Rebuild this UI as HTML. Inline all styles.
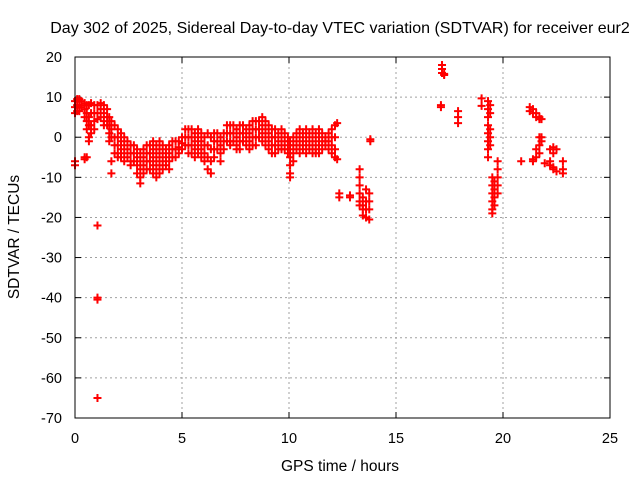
<!DOCTYPE html>
<html><head><meta charset="utf-8"><style>
body{margin:0;background:#fff;}
svg{display:block;font-family:"Liberation Sans",sans-serif;}
</style></head><body>
<svg id="chart" width="640" height="480">
<rect width="640" height="480" fill="#fff"/>
<text x="340" y="33" font-size="16" text-anchor="middle">Day 302 of 2025, Sidereal Day-to-day VTEC variation (SDTVAR) for receiver eur2</text>
<g id="grid"></g>
<g id="ticks"></g>
<g id="points"></g>
<rect x="75" y="57" width="535" height="361" fill="none" stroke="#000" stroke-width="1"/>
<text x="340" y="471" font-size="15.5" text-anchor="middle">GPS time / hours</text>
<text x="19" y="237" font-size="15.5" text-anchor="middle" transform="rotate(-90 19 237)">SDTVAR / TECUs</text>
</svg>
<script>
const xTicks=[0,5,10,15,20,25];
const yTicks=[20,10,0,-10,-20,-30,-40,-50,-60,-70];
const hours=[
0,0,0,0,0, 0.1,0.1,0.1, 0.2,0.2,0.2, 0.3,0.3,
0.45,0.45,0.45,0.45,0.45, 0.55,0.55,0.55,0.55,0.55, 0.65,0.65,0.65,0.65,0.65,
0.75,0.75,0.75,0.75, 0.9,0.9,0.9,0.9, 1.05,1.05,1.05,1.05,1.05,1.05,1.05,
1.2,1.2,1.2, 1.35,1.35,1.35,1.35, 1.5,1.5,1.5, 1.6,1.6,1.6,1.6, 1.7,1.7,1.7,1.7,1.7,
1.85,1.85,1.85,1.85, 2.0,2.0,2.0,2.0,2.0, 2.15,2.15,2.15,2.15, 2.3,2.3,2.3,2.3,
2.45,2.45,2.45, 2.6,2.6,2.6,2.6, 2.75,2.75,2.75, 2.9,2.9,2.9,2.9,
3.05,3.05,3.05,3.05,3.05, 3.2,3.2,3.2,3.2, 3.35,3.35,3.35,3.35, 3.5,3.5,3.5,3.5,
3.65,3.65,3.65,3.65,3.65, 3.8,3.8,3.8,3.8,3.8, 3.95,3.95,3.95,3.95,3.95,
4.1,4.1,4.1,4.1, 4.25,4.25,4.25, 4.4,4.4,4.4,4.4, 4.55,4.55,4.55, 4.7,4.7,4.7,
4.85,4.85,4.85, 5.0,5.0,5.0, 5.15,5.15,5.15, 5.3,5.3,5.3,5.3, 5.45,5.45,5.45,5.45,
5.6,5.6,5.6,5.6, 5.75,5.75,5.75,5.75, 5.9,5.9,5.9,5.9, 6.05,6.05,6.05,6.05,
6.2,6.2,6.2,6.2, 6.35,6.35,6.35,6.35, 6.5,6.5,6.5,6.5, 6.65,6.65,6.65,
6.8,6.8,6.8,6.8, 6.95,6.95,6.95, 7.1,7.1,7.1, 7.25,7.25,7.25,7.25, 7.4,7.4,7.4,
7.55,7.55,7.55,7.55, 7.7,7.7,7.7,7.7, 7.85,7.85,7.85, 8.0,8.0,8.0,
8.15,8.15,8.15,8.15, 8.3,8.3,8.3,8.3, 8.45,8.45,8.45,8.45, 8.6,8.6,8.6,
8.75,8.75,8.75,8.75, 8.9,8.9,8.9,8.9, 9.05,9.05,9.05,9.05, 9.2,9.2,9.2,9.2,
9.35,9.35,9.35,9.35, 9.5,9.5,9.5, 9.65,9.65,9.65,9.65, 9.8,9.8,9.8, 9.95,9.95,9.95,
10.05,10.05,10.05,10.05,10.05,10.05, 10.2,10.2,10.2,10.2, 10.35,10.35,10.35,
10.5,10.5,10.5,10.5, 10.65,10.65,10.65, 10.8,10.8,10.8,10.8, 10.95,10.95,10.95,
11.1,11.1,11.1,11.1, 11.25,11.25,11.25,11.25, 11.4,11.4,11.4,11.4, 11.55,11.55,11.55,
11.7,11.7,11.7, 11.85,11.85,11.85, 12.0,12.0,12.0,12.0, 12.15,12.15,12.15,12.15, 12.25,12.25,
12.35,12.35, 12.85,12.85, 13.3,13.3,13.3,13.3,13.3,13.3, 13.45,13.45,13.45,13.45,
13.6,13.6,13.6,13.6, 13.75,13.75,13.75,13.75, 13.8,13.8,
17.15,17.15,17.15, 17.25,17.25, 17.1,17.1, 17.9,17.9,17.9, 19.0,19.0,
19.3,19.3,19.3,19.3,19.3,19.3,19.3,19.3, 19.4,19.4,19.4,19.4,19.4,
19.5,19.5,19.5,19.5,19.5,19.5, 19.6,19.6,19.6,19.6, 19.75,19.75,19.75,19.75,19.75,
20.85, 21.25,21.25, 21.4,21.4,21.4,21.4, 21.55,21.55,21.55,21.55,
21.7,21.7,21.7,21.7,21.7, 21.8,21.8,21.8, 21.95, 22.2,22.2,22.2,
22.35,22.35,22.35,22.35, 22.5,22.5, 22.8,22.8,22.8
];
const tecu=[
9,7.5,6,-6,-7, 9.5,8,6.5, 9.5,8,6.5, 9,7.5,
8.5,7,5,-5,-5.5, 8,6,4,2,-5, 8,5,3,0,-1,
8.5,6,3,1, 8,6,4,2, 8,6,4.5,-22,-40,-40.5,-65,
8.5,7,5, 8,6,4,3, 7,5,3, 5,3,1,-1, 4,2,0,-6,-9,
3,0,-2,-4, 2,0,-2,-4,-5, 1,-1,-3,-5, 0,-2,-4,-6,
-1,-3,-5, -2,-4,-6,-7, -2,-4,-6, -3,-5,-7,-9,
-4,-6,-8,-10,-11.5, -3,-5,-7,-9, -2,-4,-6,-8, -2,-4,-6,-8,
-1,-3,-5,-7,-9, -2,-4,-6,-8,-10, -1,-3,-5,-7,-9,
-2,-4,-6,-8, -3,-5,-7, -2,-4,-6,-8, -1,-3,-5, -1,-3,-5,
-1,-2.5,-4, 0,-1.5,-3, 2,0,-2, 2,0,-2,-4, 2,0,-2,-4,
1,-1,-3,-5, 2,0,-2,-4, 1,-1,-3,-5, 0,-2,-4,-6,
1,-2,-5,-8, 0,-3,-6,-9, 1,-1,-3,-5, 1,-1,-3,
0,-2,-4,-6, 1,-1,-3, 3,1,-1, 3,1,-1,-2, 3,1,-1,
2,0,-2,-3, 3,1,-1,-3, 3,1,-1, 2,0,-2,
3,1,-1,-3, 4,2,0,-2, 4,2,0,-2, 4,2,0,
5,3,1,-1, 4,2,0,-2, 3,1,-1,-3, 2,0,-2,-4,
2,0,-2,-4, 1,-1,-3, 2,0,-2,-3, 1,-1,-3, 0,-2,-4,
-1,-3,-5,-7,-9,-10, 0,-2,-4,-6, 1,-1,-3,
2,0,-2,-4, 1,-1,-3, 2,0,-2,-4, 1,-1,-3,
2,0,-2,-4, 1,-1,-3,-4, 2,0,-2,-4, 1,-1,-3,
0,-1,-2, 1,-1,-3, 2,0,-2,-4, 3,0,-3,-5, 3.5,-5.5,
-14,-15, -14.5,-15, -8,-10,-12,-14,-16,-17, -15,-17,-18,-19.5,
-13,-16,-18,-20, -14,-16,-18,-20.5, -0.5,-1,
18,17,16, 15.5,15.8, 7.5,8, 6.5,5,3.5, 9.7,7.8,
9,7,5,3,1,-1,-3,-5, 8,6,2,0,-2,
-10,-12,-14,-16,-18,-19, -11,-13,-15,-17, -6,-8,-10,-12,-14,
-6, 7.5,6.5, 7,6,-6,-5.5, 6,5,-5,-3,
5,4.5,-4,-2,0, 4.5,-1,0, -6.5, -3,-6,-7,
-2.5,-4,-7.5,-8, -3,-8.5, -6,-8,-9
];
const NS='http://www.w3.org/2000/svg';
const X0=75,X1=610,Y0=57,Y1=418,xMin=0,xMax=25,yMin=-70,yMax=20;
function xs(v){return X0+(v-xMin)/(xMax-xMin)*(X1-X0);}
function ys(v){return Y1-(v-yMin)/(yMax-yMin)*(Y1-Y0);}
function mk(tag,attrs,parent){const e=document.createElementNS(NS,tag);for(const k in attrs)e.setAttribute(k,attrs[k]);parent.appendChild(e);return e;}
const grid=document.getElementById('grid'),ticks=document.getElementById('ticks'),pts=document.getElementById('points');
xTicks.forEach(t=>{
  const x=xs(t);
  if(t>xMin&&t<xMax){const g=mk('line',{x1:x,x2:x,y1:Y0,y2:Y1,stroke:'#a0a0a0','stroke-dasharray':'2,3'},grid);
  
  }
  const a=mk('line',{x1:x,x2:x,y1:Y1,y2:Y1-6,stroke:'#000'},ticks);
  
  
  const b=mk('line',{x1:x,x2:x,y1:Y0,y2:Y0+6,stroke:'#000'},ticks);
  
  
  const l=mk('text',{x:x,y:443,'font-size':14.5,'text-anchor':'middle'},ticks);l.textContent=t;
  
  
});
yTicks.forEach(t=>{
  const y=ys(t);
  if(t>yMin&&t<yMax){const g=mk('line',{x1:X0,x2:X1,y1:y,y2:y,stroke:'#a0a0a0','stroke-dasharray':'2,3'},grid);
  
  }
  const a=mk('line',{x1:X0,x2:X0+6,y1:y,y2:y,stroke:'#000'},ticks);
  
  
  const b=mk('line',{x1:X1,x2:X1-6,y1:y,y2:y,stroke:'#000'},ticks);
  
  
  const l=mk('text',{x:62,y:y+5,'font-size':14.5,'text-anchor':'end'},ticks);l.textContent=t;
  
  
});
hours.forEach((h,i)=>{
  const x=xs(h),y=ys(tecu[i]);
  const p=mk('path',{d:`M${x-4} ${y}H${x+4}M${x} ${y-4}V${y+4}`,stroke:'#ff0000','stroke-width':2,fill:'none'},pts);
  
  
});
</script>
</body></html>
